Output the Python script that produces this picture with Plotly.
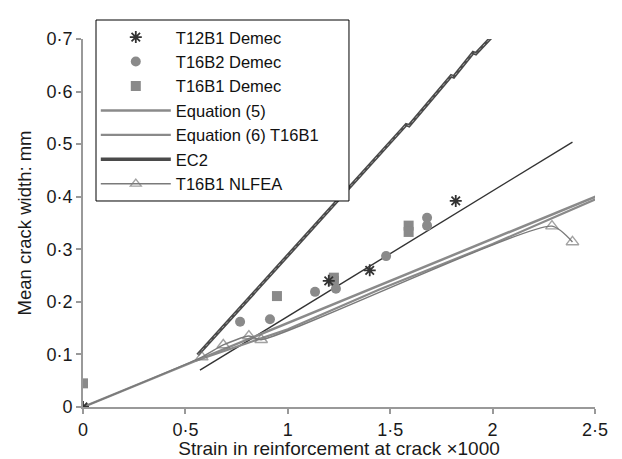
import plotly.graph_objects as go

# ---- data ----
t12b1_x = [0.0, 1.20, 1.40, 1.82]
t12b1_y = [0.0, 0.240, 0.260, 0.392]

t16b2_x = [0.767, 0.913, 1.133, 1.235, 1.48, 1.68, 1.68]
t16b2_y = [0.162, 0.167, 0.219, 0.225, 0.287, 0.360, 0.345]

t16b1_x = [0.0, 0.947, 1.225, 1.225, 1.59, 1.59]
t16b1_y = [0.045, 0.211, 0.240, 0.246, 0.345, 0.333]

eq5_x = [0.0, 2.52]
eq5_y = [0.0, 0.403]

eq6_x = [0.55, 1.0, 1.45, 2.0, 2.52]
eq6_y = [0.088, 0.148, 0.224, 0.310, 0.398]

ec2_x = [0.56, 1.578, 1.592, 1.798, 1.810, 1.905, 1.918, 2.012, 2.04]
ec2_y = [0.099, 0.537, 0.535, 0.630, 0.628, 0.674, 0.672, 0.711, 0.712]

nlfea_x = [0.0, 0.58, 0.685, 0.81, 0.87, 2.29, 2.39]
nlfea_y = [0.0, 0.095, 0.118, 0.135, 0.128, 0.344, 0.314]

trend_x = [0.571, 2.39]
trend_y = [0.070, 0.504]

x_ticks = [0, 0.5, 1, 1.5, 2, 2.5]
x_ticktext = ["0", "0·5", "1", "1·5", "2", "2·5"]
y_ticks = [0, 0.1, 0.2, 0.3, 0.4, 0.5, 0.6, 0.7]
y_ticktext = ["0", "0·1", "0·2", "0·3", "0·4", "0·5", "0·6", "0·7"]

GRAY = "#8a8a8a"
DARK = "#333333"

fig = go.Figure()

# lines first (drawn below markers)
fig.add_trace(go.Scatter(x=trend_x, y=trend_y, mode="lines", showlegend=False,
                         line=dict(color=DARK, width=1.4), hoverinfo="skip"))
fig.add_trace(go.Scatter(x=eq5_x, y=eq5_y, mode="lines", name="Equation (5)",
                         line=dict(color=GRAY, width=2.5), legendrank=4))
fig.add_trace(go.Scatter(x=eq6_x, y=eq6_y, mode="lines", name="Equation (6) T16B1",
                         line=dict(color=GRAY, width=2.2), legendrank=5))
fig.add_trace(go.Scatter(x=ec2_x, y=ec2_y, mode="lines", name="EC2",
                         line=dict(color="#4a4a4a", width=3.5), legendrank=6))
fig.add_trace(go.Scatter(x=ec2_x, y=ec2_y, mode="lines", showlegend=False,
                         line=dict(color="#a0a0a0", width=1, dash="dot"), hoverinfo="skip"))
fig.add_trace(go.Scatter(x=nlfea_x, y=nlfea_y, mode="lines+markers", name="T16B1 NLFEA",
                         line=dict(color="#7a7a7a", width=1.4, shape="spline", smoothing=0.6),
                         marker=dict(symbol="triangle-up-open", size=[0] + [11] * (len(nlfea_x) - 1),
                                     color="#7a7a7a", line=dict(width=1.4)),
                         legendrank=7))

# markers
fig.add_trace(go.Scatter(x=t16b1_x, y=t16b1_y, mode="markers", name="T16B1 Demec",
                         marker=dict(symbol="square", size=10, color=GRAY), legendrank=3))
fig.add_trace(go.Scatter(x=t16b2_x, y=t16b2_y, mode="markers", name="T16B2 Demec",
                         marker=dict(symbol="circle", size=10, color=GRAY), legendrank=2))
fig.add_trace(go.Scatter(x=t12b1_x, y=t12b1_y, mode="markers", name="T12B1 Demec",
                         marker=dict(symbol="asterisk-open", size=10, color=DARK,
                                     line=dict(color=DARK, width=1.8)), legendrank=1))

FONT = "Liberation Sans, Arial, sans-serif"

fig.update_layout(
    width=614, height=451,
    margin=dict(l=75, r=27, t=23, b=52),
    plot_bgcolor="white", paper_bgcolor="white",
    font=dict(family=FONT, size=18, color="#1a1a1a"),
    showlegend=True,
    legend=dict(x=0.025, y=1.052, xanchor="left", yanchor="top",
                bgcolor="rgba(0,0,0,0)", borderwidth=0,
                font=dict(family=FONT, size=16.5, color="#111111"),
                tracegroupgap=0, itemwidth=70),
    shapes=[dict(type="rect", xref="paper", yref="paper",
                 x0=0.0254, x1=0.5195, y0=0.5598, y1=1.0516,
                 line=dict(color="black", width=1), fillcolor="white", layer="above")],
    xaxis=dict(range=[0, 2.5], tickvals=x_ticks, ticktext=x_ticktext,
               showgrid=False, zeroline=False, showline=True,
               linecolor="#999999", linewidth=2, ticks="outside", ticklen=5,
               tickcolor="#999999", tickwidth=1.5,
               tickfont=dict(size=18), automargin=False,
               title=dict(text="Strain in reinforcement at crack ×1000",
                          font=dict(size=19), standoff=4)),
    yaxis=dict(range=[0, 0.7], tickvals=y_ticks, ticktext=y_ticktext,
               showgrid=False, zeroline=False, showline=True,
               linecolor="#999999", linewidth=2, ticks="outside", ticklen=5,
               tickcolor="#999999", tickwidth=1.5,
               tickfont=dict(size=18), automargin=False,
               title=dict(text="Mean crack width: mm", font=dict(size=18.5), standoff=10)),
)

fig.write_html("out.html")
